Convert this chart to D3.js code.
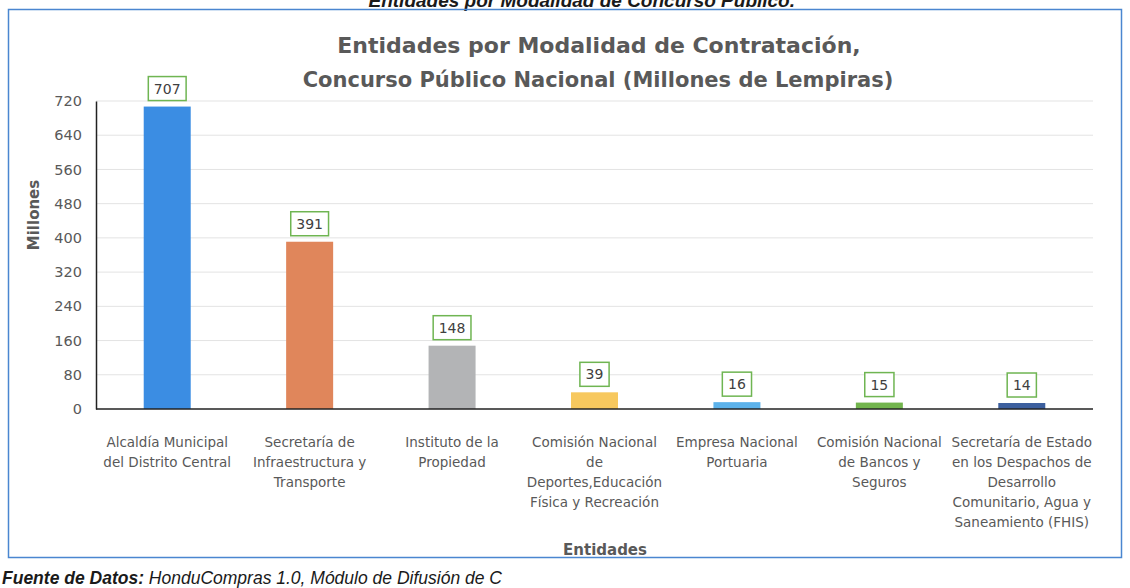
<!DOCTYPE html>
<html lang="es">
<head>
<meta charset="utf-8">
<title>Entidades por Modalidad de Contratación</title>
<script src="https://cdn.jsdelivr.net/npm/d3@7"></script>
<style>
  body { margin: 0; background: #fff; }
  svg { display: block; }
</style>
</head>
<body>
<script>
// datos
const entidades = [
  ["Alcaldía Municipal", "del Distrito Central"],
  ["Secretaría de", "Infraestructura y", "Transporte"],
  ["Instituto de la", "Propiedad"],
  ["Comisión Nacional", "de", "Deportes,Educación", "Física y Recreación"],
  ["Empresa Nacional", "Portuaria"],
  ["Comisión Nacional", "de Bancos y", "Seguros"],
  ["Secretaría de Estado", "en los Despachos de", "Desarrollo", "Comunitario, Agua y", "Saneamiento (FHIS)"]
];
const montos = [707, 391, 148, 39, 16, 15, 14];
const colores = ["#3b8de3", "#e0865b", "#b3b4b6", "#f7c85e", "#5cb2ea", "#73b54e", "#3c5f9e"];
const yTicks = [0, 80, 160, 240, 320, 400, 480, 560, 640, 720];

const W = 1130, H = 588;
const plotL = 96, plotR = 1093, plotT = 101, plotB = 409;

const svg = d3.select("body").append("svg")
  .attr("width", W)
  .attr("height", H);

// texto del documento, cortado arriba
svg.append("text")
  .attr("x", 795).attr("y", 7)
  .attr("text-anchor", "end")
  .attr("font-family", "Liberation Sans, Arial, sans-serif")
  .attr("font-size", 19)
  .attr("font-weight", "bold")
  .attr("font-style", "italic")
  .attr("fill", "#1a1a1a")
  .text("Entidades por Modalidad de Concurso Público.");

// marco del gráfico
svg.append("rect")
  .attr("x", 8.5).attr("y", 9.5)
  .attr("width", 1113).attr("height", 548)
  .attr("fill", "none")
  .attr("stroke", "#4a86d0")
  .attr("stroke-width", 1.5);

// título
const title = svg.append("text")
  .attr("text-anchor", "middle")
  .attr("font-family", "DejaVu Sans, Verdana, sans-serif")
  .attr("font-weight", "bold")
  .attr("fill", "#595959");
title.append("tspan").attr("x", 599).attr("y", 53).attr("font-size", 22).text("Entidades por Modalidad de Contratación,");
title.append("tspan").attr("x", 598).attr("y", 87).attr("font-size", 21).text("Concurso Público Nacional (Millones de Lempiras)");

const x = d3.scaleBand()
  .domain(d3.range(montos.length))
  .range([plotL, plotR])
  .paddingInner(0.67)
  .paddingOuter(0.335);

const y = d3.scaleLinear()
  .domain([0, 720])
  .range([plotB, plotT]);

// líneas de cuadrícula
svg.append("g")
  .selectAll("line")
  .data(yTicks.slice(1))
  .join("line")
  .attr("x1", plotL).attr("x2", plotR)
  .attr("y1", d => y(d)).attr("y2", d => y(d))
  .attr("stroke", "#e3e3e3")
  .attr("stroke-width", 1);

// eje y
const yAxis = svg.append("g")
  .attr("transform", `translate(${plotL},0)`)
  .call(d3.axisLeft(y).tickValues(yTicks).tickSize(0).tickPadding(14));
yAxis.select(".domain").attr("stroke", "#222").attr("stroke-width", 1.5);
yAxis.selectAll("text")
  .attr("font-family", "DejaVu Sans, Verdana, sans-serif")
  .attr("font-size", 14.5)
  .attr("fill", "#595959");

svg.append("text")
  .attr("transform", "translate(39,215) rotate(-90)")
  .attr("text-anchor", "middle")
  .attr("font-family", "DejaVu Sans, Verdana, sans-serif")
  .attr("font-size", 15)
  .attr("font-weight", "bold")
  .attr("fill", "#595959")
  .text("Millones");

// barras
svg.append("g")
  .selectAll("rect")
  .data(montos)
  .join("rect")
  .attr("x", (d, i) => x(i))
  .attr("y", d => y(d))
  .attr("width", x.bandwidth())
  .attr("height", d => y(0) - y(d))
  .attr("fill", (d, i) => colores[i]);

// eje x
svg.append("line")
  .attr("x1", plotL).attr("x2", plotR)
  .attr("y1", y(0)).attr("y2", y(0))
  .attr("stroke", "#222")
  .attr("stroke-width", 1.5);

// etiquetas de valor
const etiquetas = svg.append("g")
  .selectAll("g")
  .data(montos)
  .join("g")
  .attr("transform", (d, i) => `translate(${x(i) + x.bandwidth() / 2},${y(d) - 18})`);
etiquetas.append("rect")
  .attr("x", d => -(String(d).length * 4.3 + 6))
  .attr("y", -12)
  .attr("width", d => 2 * (String(d).length * 4.3 + 6))
  .attr("height", 24)
  .attr("fill", "#fff")
  .attr("stroke", "#6fb552")
  .attr("stroke-width", 1.5);
etiquetas.append("text")
  .attr("text-anchor", "middle")
  .attr("dy", "0.36em")
  .attr("font-family", "DejaVu Sans, Verdana, sans-serif")
  .attr("font-size", 14)
  .attr("fill", "#404040")
  .text(d => d);

// nombres de entidades
const nombres = svg.append("g")
  .selectAll("text")
  .data(entidades)
  .join("text")
  .attr("text-anchor", "middle")
  .attr("font-family", "DejaVu Sans, Verdana, sans-serif")
  .attr("font-size", 13.5)
  .attr("fill", "#595959");
nombres.selectAll("tspan")
  .data((d, i) => d.map(t => ({ t, i })))
  .join("tspan")
  .attr("x", d => x(d.i) + x.bandwidth() / 2)
  .attr("y", (d, j) => 447 + j * 20)
  .text(d => d.t);

svg.append("text")
  .attr("x", 605).attr("y", 555)
  .attr("text-anchor", "middle")
  .attr("font-family", "DejaVu Sans, Verdana, sans-serif")
  .attr("font-size", 15)
  .attr("font-weight", "bold")
  .attr("fill", "#595959")
  .text("Entidades");

// fuente, cortada abajo
const fuente = svg.append("text")
  .attr("x", 2).attr("y", 584)
  .attr("font-family", "Liberation Sans, Arial, sans-serif")
  .attr("font-size", 17.5)
  .attr("font-style", "italic")
  .attr("fill", "#1a1a1a");
fuente.append("tspan").attr("font-weight", "bold").text("Fuente de Datos:");
fuente.append("tspan").text(" HonduCompras 1.0, Módulo de Difusión de C");
</script>
</body>
</html>
